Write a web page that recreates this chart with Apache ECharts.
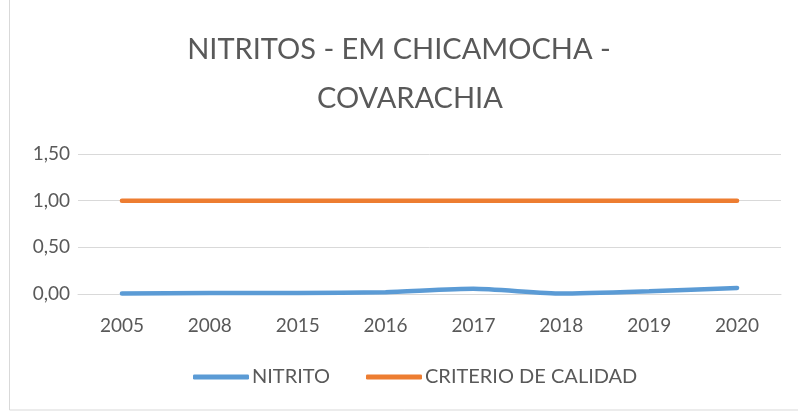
<!DOCTYPE html>
<html>
<head>
<meta charset="utf-8">
<script src="https://cdn.jsdelivr.net/npm/echarts@6/dist/echarts.min.js"></script>
<style>
  html, body { margin: 0; padding: 0; background: #fff; }
  #main { width: 798px; height: 415px; }
</style>
</head>
<body>
<div id="main"></div>
<script>
var myChart = echarts.init(document.getElementById('main'));

var years = ['2005', '2008', '2015', '2016', '2017', '2018', '2019', '2020'];
var nitrito = [0.005, 0.01, 0.01, 0.02, 0.055, 0.005, 0.03, 0.065];
var criterio = [1, 1, 1, 1, 1, 1, 1, 1];

var titleStyle = {
    fontFamily: 'Lato',
    fontWeight: 400,
    fontSize: 29,
    color: '#595959'
};

var option = {
    backgroundColor: '#fff',
    animation: false,
    title: [{
        text: 'NITRITOS - EM CHICAMOCHA -',
        left: 'center',
        top: 30,
        textStyle: titleStyle
    }, {
        text: 'COVARACHIA',
        left: 312,
        top: 79,
        textStyle: titleStyle
    }],
    legend: {
        bottom: 23,
        left: 188,
        itemGap: 36,
        itemWidth: 56,
        itemHeight: 5,
        icon: 'roundRect',
        textStyle: { fontFamily: 'Lato', fontSize: 20, color: '#595959', padding: [0, 0, 0, -2] },
        data: ['NITRITO', 'CRITERIO DE CALIDAD']
    },
    grid: { left: 78, right: 17, top: 154, bottom: 121 },
    xAxis: {
        type: 'category',
        data: years,
        boundaryGap: true,
        axisLine: { lineStyle: { color: '#d9d9d9', width: 1 } },
        axisTick: { show: false },
        axisLabel: { fontFamily: 'Lato', fontSize: 19, color: '#595959', margin: 22 }
    },
    yAxis: {
        type: 'value',
        min: 0,
        max: 1.5,
        interval: 0.5,
        axisLine: { show: false },
        axisTick: { show: false },
        splitLine: { lineStyle: { color: '#d9d9d9', width: 1 } },
        axisLabel: {
            fontFamily: 'Lato', fontSize: 19, color: '#595959', margin: 8,
            formatter: function (v) { return v.toFixed(2).replace('.', ','); }
        }
    },
    series: [{
        name: 'NITRITO',
        type: 'line',
        data: nitrito,
        symbol: 'none',
        smooth: 0.2,
        lineStyle: { color: '#5b9bd5', width: 4.5, cap: 'round' },
        itemStyle: { color: '#5b9bd5' }
    }, {
        name: 'CRITERIO DE CALIDAD',
        type: 'line',
        data: criterio,
        symbol: 'none',
        lineStyle: { color: '#ed7d31', width: 4.5, cap: 'round' },
        itemStyle: { color: '#ed7d31' }
    }],
    graphic: [{
        type: 'rect',
        shape: { x: 9.5, y: -2, width: 790, height: 412 },
        style: { fill: 'none', stroke: '#d9d9d9', lineWidth: 1 },
        silent: true
    }]
};
myChart.setOption(option);
</script>
</body>
</html>
